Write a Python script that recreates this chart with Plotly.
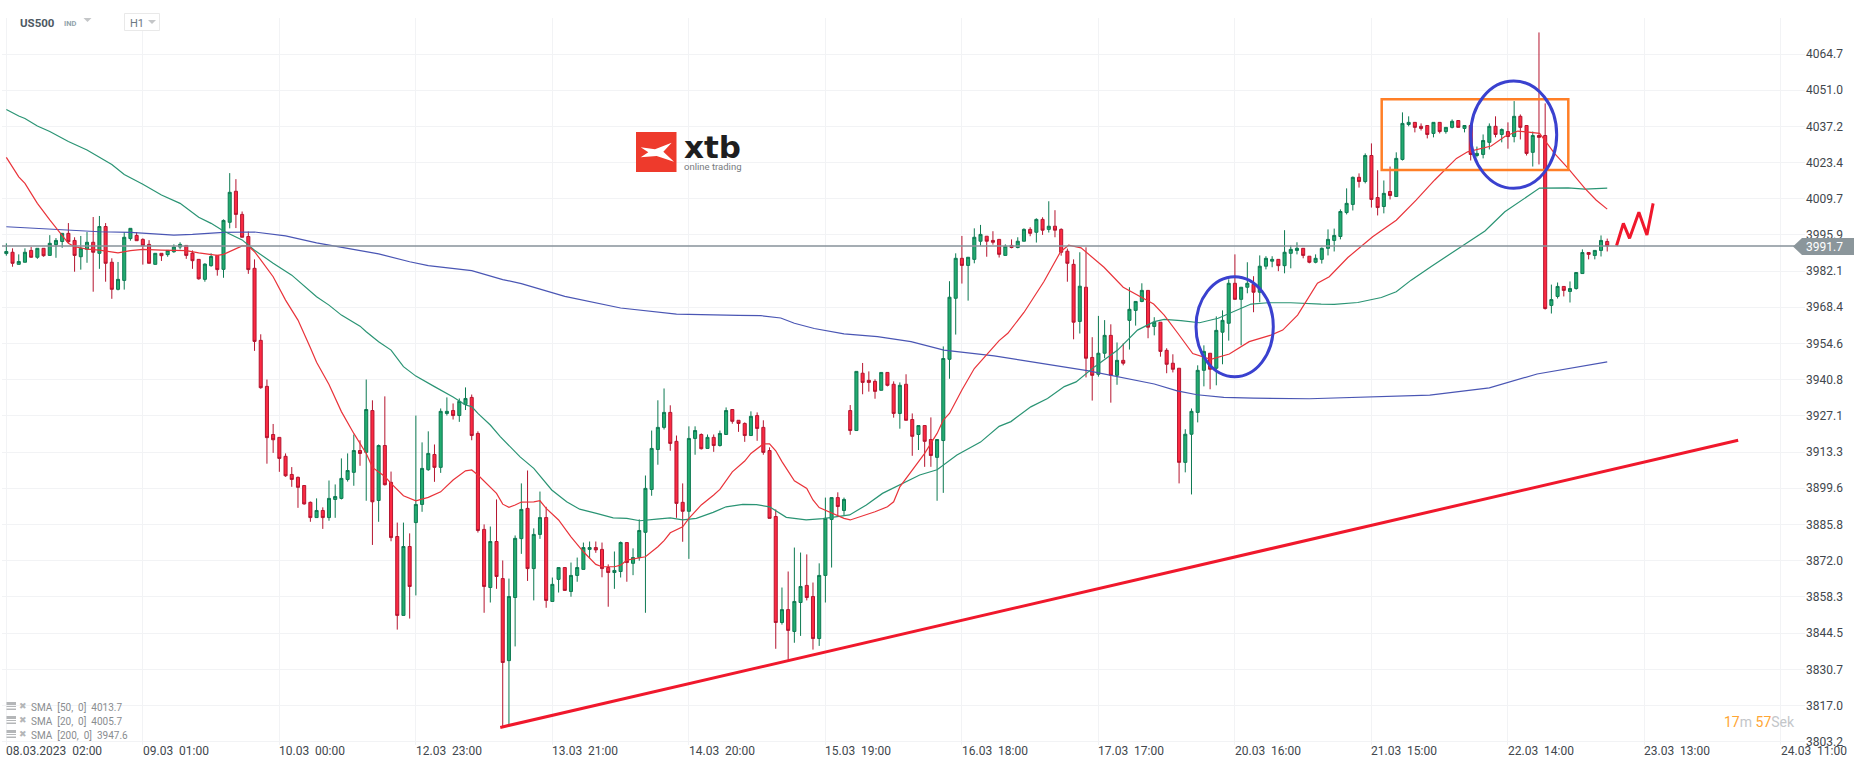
import plotly.graph_objects as go

opens = [3988.8,3989.3,3984.7,3985.5,3990.0,3987.4,3990.8,3988.1,3992.2,3993.4,
3996.5,3993.8,3987.6,3990.4,3993.1,3988.9,3999.1,3985.5,3975.2,3978.6,
3994.5,3995.7,3994.2,3992.3,3984.7,3988.9,3988.4,3989.5,3991.3,3991.9,
3989.0,3986.6,3979.0,3984.2,3988.1,3982.8,4000.7,4012.5,4003.7,3995.3,
3983.2,3955.8,3938.3,3920.0,3918.9,3911.7,3904.8,3903.7,3900.6,3894.2,
3888.4,3891.1,3888.4,3895.3,3895.7,3902.9,3905.6,3913.9,3913.2,3929.1,
3894.9,3915.8,3901.8,3881.2,3851.2,3877.4,3886.5,3893.4,3906.6,3912.4,
3907.5,3928.0,3929.1,3927.2,3931.4,3934.1,3920.4,3883.9,3861.8,3879.3,
3865.2,3834.0,3858.0,3880.4,3891.9,3869.0,3882.0,3888.4,3856.5,3864.9,
3869.4,3860.3,3866.4,3868.7,3876.3,3877.0,3876.3,3869.4,3867.5,3867.9,
3878.9,3871.0,3873.2,3882.8,3899.1,3914.3,3922.7,3928.4,3917.4,3894.2,
3890.8,3918.5,3920.0,3914.7,3918.9,3915.8,3920.0,3929.5,3925.4,3924.2,
3919.6,3927.2,3922.7,3913.9,3888.8,3848.5,3853.4,3845.1,3856.1,3862.6,
3858.4,3842.4,3866.4,3887.7,3896.0,3891.1,3929.1,3921.5,3943.3,3940.6,
3940.2,3936.8,3943.6,3939.1,3928.0,3939.1,3925.7,3920.0,3923.4,3918.1,
3911.3,3917.7,3948.6,3971.8,3987.0,3984.3,3986.6,3993.5,3995.4,3993.8,
3994.2,3988.1,3991.9,3991.1,3993.5,3998.0,3996.9,4001.8,3998.0,3999.2,
3998.0,3989.7,3984.7,3963.0,3976.0,3949.3,3942.9,3950.9,3957.7,3942.5,
3948.2,3963.4,3967.2,3970.6,3974.8,3961.1,3962.7,3952.0,3947.1,3945.2,
3909.4,3920.1,3928.4,3944.4,3950.9,3945.2,3958.9,3962.3,3977.5,3971.4,
3976.0,3977.1,3974.1,3984.0,3985.9,3986.6,3984.2,3988.9,3990.0,3990.8,
3987.8,3985.5,3986.6,3990.8,3993.8,3995.3,4004.4,4007.5,4017.8,4016.2,
4026.1,4010.1,4006.7,4012.4,4010.5,4024.6,4037.9,4038.7,4037.2,4037.5,
4034.5,4038.7,4035.2,4036.8,4039.4,4036.4,4037.5,4026.1,4026.5,4031.1,
4037.2,4034.1,4035.2,4033.3,4041.0,4037.5,4027.3,4033.7,4033.7,3969.1,
3972.5,3976.3,3974.4,3975.5,3981.2,3989.2,3988.1,3990.0,3993.4]

closes = [3989.6,3985.1,3985.8,3989.3,3987.4,3990.8,3988.0,3992.7,3993.8,3996.5,
3993.3,3988.1,3990.8,3993.1,3989.3,3999.1,3985.1,3975.2,3979.0,3995.0,
3998.4,3993.7,3991.8,3985.1,3988.9,3988.0,3990.0,3991.3,3992.3,3988.1,
3986.1,3979.2,3984.8,3987.7,3982.7,4001.4,4012.1,4003.7,3995.0,3982.7,
3955.4,3937.8,3918.8,3918.0,3910.9,3904.3,3902.9,3899.9,3893.6,3888.4,
3891.1,3888.4,3895.7,3896.4,3903.3,3906.3,3913.9,3912.8,3929.5,3894.4,
3915.8,3900.9,3880.8,3851.2,3877.4,3862.2,3893.4,3907.1,3912.8,3907.5,
3928.8,3928.8,3927.2,3932.6,3933.7,3919.6,3883.5,3862.2,3879.3,3866.0,
3833.3,3858.4,3880.5,3891.5,3869.0,3882.0,3888.4,3856.9,3863.0,3869.4,
3860.7,3866.4,3869.4,3877.0,3877.0,3876.1,3869.0,3867.5,3868.3,3878.9,
3871.3,3873.2,3883.5,3899.5,3914.7,3922.7,3928.4,3916.6,3893.8,3890.8,
3918.5,3921.5,3914.6,3918.9,3915.8,3920.4,3929.1,3925.0,3924.2,3919.6,
3926.9,3922.3,3913.2,3888.1,3848.5,3853.4,3845.5,3856.5,3862.2,3858.0,
3842.4,3866.4,3888.1,3896.0,3892.6,3895.3,3921.5,3944.0,3939.8,3939.8,
3936.4,3943.6,3938.7,3928.0,3938.7,3925.4,3919.3,3923.4,3917.4,3912.0,
3918.1,3948.9,3972.2,3987.0,3984.3,3987.4,3995.0,3996.1,3993.5,3993.1,
3988.5,3991.6,3991.1,3993.5,3998.0,3996.5,4001.8,3997.7,3999.2,3997.7,
3989.3,3985.1,3962.7,3976.4,3949.0,3942.5,3950.9,3957.7,3942.5,3948.2,
3947.1,3967.6,3970.6,3974.8,3960.8,3962.7,3951.6,3946.7,3944.8,3909.4,
3920.1,3928.8,3944.4,3951.6,3944.8,3959.6,3963.4,3977.5,3971.4,3976.0,
3977.5,3974.1,3984.0,3987.0,3986.6,3984.2,3989.3,3990.4,3990.8,3988.1,
3985.5,3987.0,3990.8,3994.2,3995.7,4004.8,4007.9,4017.8,4016.2,4026.1,
4009.4,4006.3,4011.7,4010.9,4025.0,4038.3,4038.7,4036.8,4036.4,4034.1,
4038.7,4035.2,4036.8,4039.1,4036.8,4037.5,4026.5,4026.9,4031.8,4037.2,
4034.1,4036.0,4033.3,4041.0,4036.8,4026.9,4033.7,4033.0,3967.9,3971.3,
3976.3,3974.8,3975.5,3981.6,3989.2,3988.5,3990.0,3993.8,3991.7]

highs = [3992.7,3990.8,3988.5,3990.8,3991.3,3990.8,3990.8,3995.8,3994.7,3996.5,
4000.4,3995.0,3995.5,3997.0,4002.7,4003.1,4000.4,3987.0,3985.6,3997.0,
3998.4,3997.0,3994.6,3993.9,3988.9,3988.9,3990.0,3992.3,3993.1,3991.9,
3990.0,3986.6,3985.1,3988.9,3988.1,4001.8,4019.4,4017.1,4004.8,3997.2,
3986.6,3958.1,3940.9,3924.0,3918.9,3912.8,3907.6,3904.0,3900.6,3894.5,
3895.7,3892.3,3902.5,3901.0,3910.9,3912.8,3920.0,3917.8,3940.9,3933.0,
3916.2,3934.5,3905.9,3886.5,3886.5,3882.4,3927.2,3917.0,3921.2,3916.2,
3929.9,3934.1,3931.8,3933.7,3937.9,3935.2,3921.2,3885.8,3885.0,3895.3,
3872.1,3865.2,3881.6,3901.4,3906.3,3884.3,3898.3,3892.5,3865.6,3869.4,
3869.4,3871.3,3873.2,3878.9,3879.3,3879.3,3878.9,3870.6,3875.5,3879.3,
3878.9,3876.7,3887.7,3904.4,3921.5,3933.0,3937.5,3931.1,3919.6,3901.4,
3923.1,3923.1,3920.4,3920.0,3920.0,3921.5,3930.3,3929.5,3925.4,3924.6,
3928.8,3928.4,3925.4,3915.1,3891.5,3861.8,3867.9,3877.0,3875.1,3874.4,
3863.7,3871.0,3896.0,3896.0,3898.0,3896.0,3931.2,3944.0,3947.2,3944.0,
3941.0,3943.6,3943.6,3940.2,3939.8,3942.9,3928.0,3923.4,3923.4,3926.5,
3918.1,3953.5,3978.3,3988.9,3995.5,3987.4,3998.4,3999.7,3995.4,3997.3,
3994.2,3992.3,3994.2,3995.0,3998.4,3998.8,4002.2,4002.6,4008.7,4005.3,
3998.4,3990.7,3986.6,3989.3,3991.2,3957.0,3965.1,3963.5,3961.9,3955.0,
3954.7,3976.0,3970.6,3977.5,3974.8,3964.6,3962.7,3952.8,3950.5,3945.2,
3922.0,3929.9,3946.3,3953.9,3950.9,3964.9,3967.2,3979.0,3988.5,3976.0,
3985.5,3980.2,3988.1,3987.8,3987.8,3986.6,3997.7,3991.9,3993.1,3990.8,
3987.8,3988.5,3991.1,3998.0,3998.3,4005.6,4013.6,4018.1,4019.3,4026.9,
4030.7,4020.5,4016.6,4021.9,4027.3,4042.5,4041.0,4038.7,4038.3,4037.5,
4038.7,4038.7,4036.8,4039.8,4039.4,4037.5,4037.5,4029.5,4034.1,4038.3,
4041.0,4036.4,4038.7,4046.8,4041.7,4037.5,4035.2,4072.9,4045.9,3977.0,
3977.8,3976.3,3978.2,3981.6,3990.4,3989.2,3990.0,3995.7,3994.5]

lows = [3988.0,3983.8,3984.7,3985.5,3987.2,3986.8,3987.6,3988.1,3987.2,3991.0,
3992.9,3981.9,3982.7,3985.3,3974.3,3983.0,3978.1,3971.6,3974.8,3975.1,
3993.7,3993.7,3984.6,3985.1,3984.7,3986.0,3987.6,3989.1,3990.4,3986.8,
3983.0,3978.9,3978.1,3983.8,3980.4,3979.6,3998.4,3998.5,3995.0,3981.1,
3951.8,3937.4,3908.9,3913.0,3905.8,3903.9,3900.1,3892.1,3893.3,3886.8,
3888.4,3884.1,3887.2,3888.3,3895.3,3902.1,3900.5,3908.1,3894.8,3878.0,
3886.8,3900.6,3879.4,3845.8,3851.2,3850.0,3858.8,3890.6,3906.2,3902.0,
3905.4,3927.2,3925.7,3924.8,3929.3,3917.8,3882.7,3852.2,3856.1,3861.3,
3808.6,3809.4,3839.4,3874.6,3864.3,3856.9,3880.3,3854.1,3856.5,3859.9,
3860.7,3858.3,3864.0,3868.7,3872.9,3875.0,3865.7,3854.5,3861.3,3865.6,
3864.0,3866.5,3872.0,3852.2,3896.7,3908.5,3921.9,3913.8,3888.3,3879.2,
3872.7,3912.3,3914.3,3914.7,3913.4,3915.4,3920.0,3924.1,3921.0,3917.2,
3919.6,3917.6,3912.3,3888.1,3838.5,3847.7,3834.3,3840.8,3843.4,3856.9,
3838.2,3839.6,3856.1,3869.4,3888.8,3889.2,3919.9,3921.5,3935.3,3936.3,
3933.6,3936.8,3938.3,3926.4,3922.2,3925.4,3911.9,3914.1,3907.7,3907.7,
3894.8,3897.8,3941.2,3958.0,3977.4,3970.9,3985.1,3991.8,3987.6,3992.2,
3987.3,3988.1,3990.8,3990.8,3993.5,3995.4,3993.0,3995.9,3996.8,3995.0,
3988.0,3978.1,3956.2,3958.4,3941.7,3932.9,3942.0,3949.0,3932.1,3938.9,
3946.3,3952.3,3961.4,3970.3,3956.6,3957.7,3949.6,3943.3,3943.6,3901.4,
3905.6,3897.2,3924.6,3938.3,3937.2,3938.7,3946.7,3955.7,3971.4,3953.9,
3973.7,3966.5,3970.3,3982.8,3983.6,3982.1,3981.3,3983.2,3988.5,3987.0,
3985.1,3985.1,3985.0,3988.1,3989.6,3994.2,4003.7,4005.2,4013.9,4015.5,
4006.3,4003.3,4004.1,4009.4,4010.5,4024.2,4037.2,4034.9,4035.6,4032.6,
4033.0,4034.5,4034.4,4036.4,4036.8,4034.9,4024.2,4025.4,4025.0,4028.4,
4033.0,4031.1,4028.7,4031.1,4032.2,4026.1,4021.9,4022.7,3967.5,3966.0,
3971.7,3972.5,3970.2,3975.1,3981.2,3986.6,3986.6,3987.7,3989.6]

assert len(opens) == len(closes) == len(highs) == len(lows) == 259

sma20_x = [0,2,3,5,7,9,10,11,13,15,17,18,20,22,25,29,31,34,35,37,38,39,40,41,43,45,47,49,50,52,54,56,58,59,61,62,64,66,68,70,72,74,75,76,78,79,80,81,82,83,85,86,87,89,91,93,95,96,98,99,100,102,103,105,106,107,109,110,112,114,115,117,119,120,122,123,124,125,127,129,130,131,133,135,136,138,140,142,143,144,146,148,150,151,152,154,156,158,160,161.4,164,167.2,169.9,171.2,173.2,176.9,180,184.9,186.6,188.8,191.2,194.1,197.1,200.3,203.8,205.7,208.1,211.3,213.2,216.2,220.2,224,227.2,230.2,233.7,235.5,239.3,241.5,243.6,247.1,249.5,251.7,254.4,256.2,258]
sma20_y = [4025.4,4018.0,4015.5,4007.9,4001.6,3995.8,3992.7,3991.4,3990.5,3990.1,3989.4,3989.1,3989.9,3990.4,3990.1,3989.9,3989.1,3988.1,3988.5,3990.8,3991.7,3991.7,3989.5,3986.4,3980.0,3971.1,3963.5,3953.0,3947.5,3939.0,3928.7,3920.4,3912.8,3907.5,3904.0,3901.4,3896.7,3894.8,3896.1,3898.2,3902.7,3906.2,3906.5,3904.6,3900.1,3897.6,3893.5,3892.3,3893.2,3894.3,3894.4,3894.8,3891.9,3887.5,3881.1,3875.4,3870.6,3869.7,3869.7,3870.3,3872.2,3873.1,3873.5,3877.3,3879.6,3882.6,3884.9,3888.1,3893.2,3897.0,3899.1,3905.8,3909.9,3912.8,3916.4,3916.4,3913.8,3909.7,3902.4,3899.5,3895.1,3892.2,3890.2,3888.1,3887.5,3889.0,3890.6,3892.5,3894.4,3900.1,3906.5,3912.8,3920.4,3925.5,3928.0,3936.9,3945.1,3950.2,3955.7,3958.5,3966.4,3978.1,3989.5,3992.0,3991.0,3983.6,3976.0,3969.6,3965.4,3958.5,3950.8,3948.6,3950.6,3955.3,3957.8,3959.7,3965.4,3977.5,3980.0,3987.3,3995.2,4001.5,4009.1,4016.8,4025.0,4027.5,4029.7,4033.3,4035.4,4034.5,4026.9,4021.2,4013.6,4009.2,4005.7]

sma50_x = [0,2,3,5,7,10,13,15,17,19,22,25,28,31,33,35,38,40,43,46,49,50,52,54,57,58,60,62,64,66,69,72,74,75,76,78,79.6,82.8,85,87.9,90.3,92.4,95.1,97.8,100,102.1,104.8,107,109,111.2,113.9,116,118.7,120.9,123,125.7,128.9,131.6,135.9,138.6,141.2,144.5,147.2,150,153.2,157,160,161.9,165.1,167.8,170.5,172.4,175.4,179.1,182.3,185,186.6,189.3,192.3,195.3,198.5,200.6,203.3,207,211.9,214,217.8,221.6,224,226.4,229.7,234,238.3,241.5,244.2,247.1,251.7,254.4,258]
sma50_y = [4043.6,4041.1,4040.2,4037.3,4035.2,4031.4,4028.2,4025.6,4022.7,4018.9,4015.2,4011.1,4007.9,4002.6,4000.3,3997.4,3994.0,3990.1,3985.1,3980.6,3974.3,3972.4,3969.2,3965.4,3961.2,3959.1,3955.3,3952.1,3945.8,3942.2,3938.2,3934.3,3931.2,3930.6,3928.0,3923.6,3919.2,3911.5,3907.1,3898.9,3894.4,3891.6,3890.0,3888.3,3888.1,3887.2,3887.8,3888.3,3887.5,3888.1,3890.4,3892.5,3893.4,3893.3,3892.5,3888.5,3887.5,3888.0,3889.4,3893.2,3897.6,3901.4,3904.6,3906.6,3912.2,3917.1,3923.1,3924.9,3930.5,3933.7,3938.2,3940.0,3945.8,3952.1,3959.7,3962.9,3963.8,3963.3,3962.5,3964.2,3967.3,3969.6,3970.1,3970.1,3969.6,3969.5,3970.2,3972.1,3974.3,3978.7,3984.0,3990.8,3997.4,4004.7,4009.2,4013.7,4013.8,4013.3,4013.7]

sma200_x = [0,5,10,15,20,27,30,35,40,45,50,55,60,65,68,75,80,83,90,99,108,118,121.6,124.8,127,130.2,135,140.4,145.8,151.1,159.2,163.5,174.2,185,188.7,191.9,196.2,201,210,229.4,239,246.7,258]
sma200_y = [3999.0,3998.4,3997.9,3997.1,3996.9,3995.8,3996.1,3996.9,3997.0,3995.5,3992.9,3990.9,3988.7,3985.7,3984.2,3982.3,3978.9,3977.4,3972.5,3968.1,3965.8,3965.3,3965.2,3964.3,3962.3,3960.3,3958.3,3957.2,3955.3,3952.1,3949.9,3948.3,3944.3,3939.2,3936.6,3935.1,3934.1,3933.8,3933.6,3935.0,3937.7,3943.0,3947.6]

trend_x = [79.6, 279.1]
trend_y = [3808.6, 3917.8]
squiggle_x = [259.5,260.6,261.6,263.1,264.4,265.4]
squiggle_y = [3991.8,4000.3,3994.6,4004.5,3995.9,4007.9]

price_ticks = [4064.7,4051.0,4037.2,4023.4,4009.7,3995.9,3982.1,3968.4,3954.6,3940.8,3927.1,3913.3,3899.6,3885.8,3872.0,3858.3,3844.5,3830.7,3817.0,3803.2]
time_labels = ["08.03.2023  02:00","09.03  01:00","10.03  00:00","12.03  23:00","13.03  21:00","14.03  20:00","15.03  19:00","16.03  18:00","17.03  17:00","20.03  16:00","21.03  15:00","22.03  14:00","23.03  13:00","24.03  11:00"]
time_ticks = [22 * k for k in range(len(time_labels))]
sma_legend = ["SMA  [50,  0]  4013.7", "SMA  [20,  0]  4005.7", "SMA  [200,  0]  3947.6"]
last_price = 3991.7

W, H = 1866, 767
L, R, T, B = 2, 1805, 18, 745
def PX(x): return (x - L) / (R - L)
def PY(y): return (B - y) / (B - T)
def I(x): return (x - 6.33) / 6.205
def P(y): return 4064.7 - (y - 54) * 0.3803

GRID = "#f2f3f5"
TXT = "#42474d"
FONT = "Roboto, sans-serif"

xs = list(range(len(opens)))
fig = go.Figure()
fig.add_trace(go.Candlestick(
    x=xs, open=opens, high=highs, low=lows, close=closes, whiskerwidth=0,
    increasing=dict(line=dict(color="#0d7a52", width=1), fillcolor="#22ab70"),
    decreasing=dict(line=dict(color="#b5152f", width=1), fillcolor="#fb2a42"),
    hoverinfo="skip", showlegend=False))
for xv, yv, col in [(sma200_x, sma200_y, "#4a56b4"), (sma50_x, sma50_y, "#2a9474"), (sma20_x, sma20_y, "#e9333a")]:
    fig.add_trace(go.Scatter(x=xv, y=yv, mode="lines", line=dict(color=col, width=1.2), hoverinfo="skip", showlegend=False))
fig.add_trace(go.Scatter(x=trend_x, y=trend_y, mode="lines", line=dict(color="#f0182c", width=3), hoverinfo="skip", showlegend=False))
fig.add_trace(go.Scatter(x=squiggle_x, y=squiggle_y, mode="lines", line=dict(color="#f0182c", width=3), hoverinfo="skip", showlegend=False))

shapes = []
# logo backdrop and mark
shapes.append(dict(type="rect", xref="paper", yref="paper", x0=PX(623), x1=PX(752), y0=PY(179), y1=PY(125), fillcolor="white", line_width=0, layer="below"))
shapes.append(dict(type="rect", xref="paper", yref="paper", x0=PX(636), x1=PX(676.5), y0=PY(172), y1=PY(132), fillcolor="#ee3a2c", line_width=0))
mark = [(122,112),(165,118),(215,98),(190,125),(222,155),(170,138),(122,142),(145,127)]
shapes.append(dict(type="path", xref="paper", yref="paper", fillcolor="white", line_width=0,
    path="M " + " L ".join(f"{PX(600+a/3):.5f} {PY(110+b/3):.5f}" for a, b in mark) + " Z"))
# last price line and flag
shapes.append(dict(type="line", xref="paper", yref="y", x0=0, x1=PX(1795), y0=last_price, y1=last_price, line=dict(color="#87929a", width=1.4)))
flag = [(1793,246.5),(1802,238),(1854,238),(1854,255),(1802,255)]
shapes.append(dict(type="path", xref="paper", yref="paper", fillcolor="#8b969b", line_width=0,
    path="M " + " L ".join(f"{PX(a):.5f} {PY(b):.5f}" for a, b in flag) + " Z"))
# hand drawn markup
shapes.append(dict(type="rect", xref="x", yref="y", x0=I(1381.7), x1=I(1568.3), y0=P(170), y1=P(99.3), line=dict(color="#ff7f27", width=2.5)))
shapes.append(dict(type="circle", xref="x", yref="y", x0=I(1196), x1=I(1273.3), y0=P(376.7), y1=P(276.7), line=dict(color="#3a41cf", width=3)))
shapes.append(dict(type="circle", xref="x", yref="y", x0=I(1470.7), x1=I(1556.7), y0=P(188.3), y1=P(81), line=dict(color="#3a41cf", width=3)))
# H1 box and dropdown triangles
shapes.append(dict(type="rect", xref="paper", yref="paper", x0=PX(124.5), x1=PX(159.5), y0=PY(30.5), y1=PY(13.5), fillcolor="white", line=dict(color="#e9e9e9", width=1)))
for cx, cy in [(87.5, 20), (152, 22)]:
    shapes.append(dict(type="path", xref="paper", yref="paper", fillcolor="#c4c6c8", line_width=0,
        path=f"M {PX(cx-4):.5f} {PY(cy-2):.5f} L {PX(cx+4):.5f} {PY(cy-2):.5f} L {PX(cx):.5f} {PY(cy+2):.5f} Z"))
# legend icons
for cy in [706, 720, 734]:
    for dy, h in [(-4, 3), (0, 1), (2.5, 1.5)]:
        shapes.append(dict(type="rect", xref="paper", yref="paper", x0=PX(6.5), x1=PX(16), y0=PY(cy+dy+h), y1=PY(cy+dy), fillcolor="#b4b6b8", line_width=0))

ann = []
def text(x, y, s, size, color, anchor="left", family=FONT, weight=None):
    f = dict(family=family, size=size, color=color)
    if weight: f["weight"] = weight
    ann.append(dict(xref="paper", yref="paper", x=PX(x), y=PY(y), text=s, showarrow=False,
        xanchor=anchor, yanchor="middle", font=f, borderpad=0, borderwidth=0))

for tv, lab in zip(time_ticks, time_labels):
    text(6.33 + 6.205 * tv, 750.5, lab.replace(" ", "\u00a0"), 12, TXT)
text(1806, 247, f"{last_price:.1f}", 12, "#ffffff")
text(20, 23, "<b>US500</b>", 11.5, "#4d5963")
text(64, 23, "<b>IND</b>", 7.5, "#92a3ab")
text(130, 23.5, "H1", 11, "#6c7882")
text(684, 147, "<b>xtb</b>", 31, "#1e1e20", family="DejaVu Sans")
text(684, 166.5, "online trading", 9.5, "#777b80")
for cy, s in zip([707.5, 721.5, 735.5], sma_legend):
    text(31, cy, s.replace(" ", "\u00a0"), 10, "#8a8d90")
    text(19, cy - 1.5, "✖", 9, "#b4b6b8")
text(1724, 722, "<span style='color:#ffa633'>17</span><span style='color:#c3c6c9'>m</span>\u00a0<span style='color:#ffa633'>57</span><span style='color:#c3c6c9'>Sek</span>", 14, "#c3c6c9")

fig.update_layout(
    width=W, height=H, autosize=False,
    margin=dict(l=L, r=W - R, t=T, b=H - B, pad=0),
    paper_bgcolor="white", plot_bgcolor="white",
    shapes=shapes, annotations=ann, showlegend=False,
    font=dict(family=FONT),
    xaxis=dict(range=[I(L), I(R)], tickvals=time_ticks, showticklabels=False, ticks="",
               showgrid=True, gridcolor=GRID, gridwidth=1, zeroline=False, showline=False,
               rangeslider=dict(visible=False), fixedrange=True),
    yaxis=dict(range=[P(B), P(T)], side="right", tickvals=price_ticks,
               ticktext=[f"{v:.1f}" for v in price_ticks], tickfont=dict(size=12, color=TXT, family=FONT),
               ticks="", showgrid=True, gridcolor=GRID, gridwidth=1, zeroline=False, showline=False, fixedrange=True),
)
fig.write_html("out.html", config=dict(displayModeBar=False),
               post_script="document.body.style.margin='0';document.documentElement.style.overflow='hidden';")
